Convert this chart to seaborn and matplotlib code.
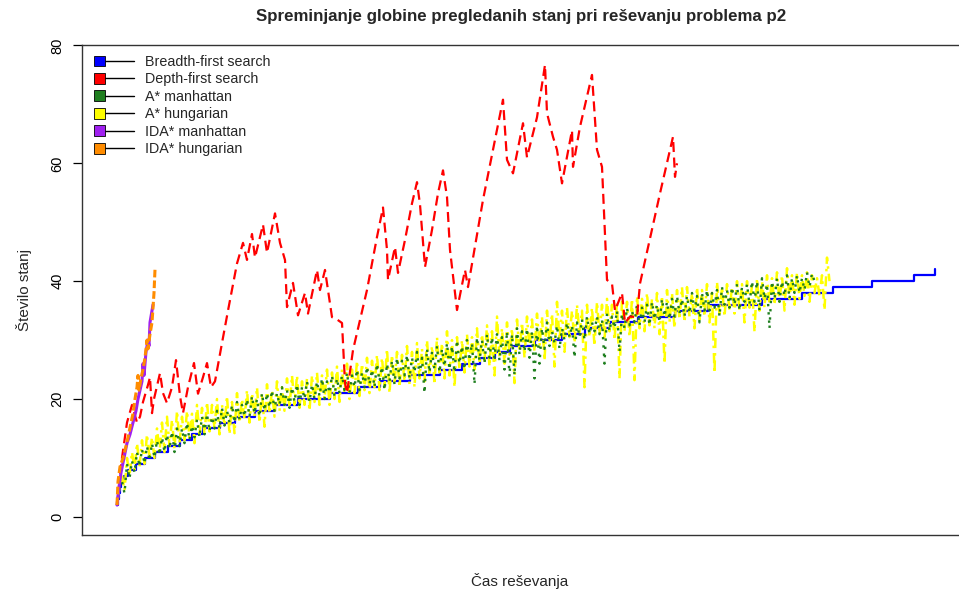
import numpy as np
import pandas as pd
import matplotlib
matplotlib.use("Agg")
import matplotlib.pyplot as plt
import seaborn as sns
from matplotlib.patches import Rectangle, Patch
from matplotlib.lines import Line2D
from matplotlib.legend_handler import HandlerBase

# ---------------- data (time steps, depth of inspected states) ----------------
labels = ["Breadth-first search", "Depth-first search", "A* manhattan",
          "A* hungarian", "IDA* manhattan", "IDA* hungarian"]
colors = ["#0000FF", "#FF0000", "#1F7F1F", "#FFFF00", "#A020F0", "#FF8C00"]

# Breadth-first search: depth level and the time step where it is reached
bfs_t = [0, 1, 2, 3, 4, 7, 11, 19, 28, 38, 51, 63, 75, 86, 103, 118, 138, 158, 181,
         213, 241, 263, 293, 323, 345, 363, 378, 393, 418, 445, 468, 493, 521, 558,
         591, 645, 685, 716, 755, 797, 818]
bfs_y = list(range(2, 43))

# Depth-first search
dfs_t = [0, 5, 10, 15, 20, 23, 26, 31, 33, 35, 37, 43, 46, 50, 55, 59, 63, 66, 71, 77,
         81, 86, 90, 94, 98, 105, 111, 120, 126, 130, 135, 138, 146, 150, 158, 163,
         168, 170, 176, 181, 188, 191, 200, 203, 208, 215, 220, 225, 228, 230, 236,
         250, 260, 266, 270, 271, 278, 281, 288, 295, 300, 303, 308, 315, 321, 326,
         330, 333, 340, 348, 351, 366, 386, 390, 396, 406, 410, 420, 428, 430, 436,
         440, 445, 455, 456, 463, 475, 480, 485, 490, 495, 498, 505, 508, 513, 520,
         523, 543, 556, 558, 560]
dfs_y = [2, 10, 16, 19, 16, 17, 19.5, 22.4, 23.7, 17.6, 20, 24.4, 21, 19.3, 22, 26.6,
         20.5, 17.6, 22, 26.1, 20.9, 23.7, 26.1, 22, 23, 29.5, 35, 43, 46.5, 43.6, 48,
         44, 49.6, 44.8, 51.5, 46.5, 43.6, 35.6, 39.7, 34.2, 38, 34.5, 41.9, 38.5,
         41.9, 33.9, 33.5, 32.9, 22.7, 21, 28.3, 38.5, 47.5, 52.5, 45.3, 40.2, 45.8,
         41.4, 47, 53.2, 56.8, 53, 42.4, 48.7, 54.9, 58.8, 54.3, 45.3, 35.1, 41.9, 39,
         53.8, 70.8, 60.6, 58.3, 66.8, 61, 67.8, 76.7, 68.5, 64.5, 62.3, 56.6, 65.6,
         59.4, 66.2, 75, 62.3, 59.4, 40.2, 39.6, 35, 38, 32.9, 34, 33.9, 39.6, 54.9,
         64.5, 57.7, 60]

# A* manhattan (one value every 2.5 time steps)
astar_man_y = [
    2, 5, 6, 4, 9, 6.5, 9.5, 7.5, 11, 8.5, 11.5, 9, 12, 9.5, 12.5, 10, 13, 10.5, 13.5, 11,
    14, 11.5, 14.5, 11, 15, 12, 15, 12.5, 16, 13, 15.5, 13.5, 16.5, 13.5, 17, 14, 17.5, 14.5, 17, 15,
    18, 15, 18.5, 15.5, 18, 16, 19, 16, 19.5, 16.5, 19, 17, 20, 17, 20.5, 17.5, 20, 17, 21, 18,
    21, 18.5, 21.5, 18, 21, 19, 22, 19, 21.5, 18.5, 22, 19.5, 22.5, 19, 22, 20, 23, 19.5, 22.5, 20,
    23, 20.5, 23.5, 20, 23, 21, 24, 20.5, 23.5, 21, 24, 21.5, 24.5, 21, 24, 22, 25, 21.5, 24.5, 22,
    25.5, 22.5, 25, 22, 26, 23, 25.5, 21.5, 26, 23, 26.5, 22.5, 27, 23.5, 26.5, 24, 27.5, 23.5, 27, 24.5,
    28, 24, 27, 21, 28.5, 24.5, 28, 25, 29, 24.5, 28.5, 25.5, 29.5, 25, 29, 24.5, 30, 26, 29, 25,
    30, 26.5, 29.5, 22.5, 30.5, 26.5, 30, 26, 31, 27, 30.5, 27, 31, 26.5, 30.5, 25, 31.5, 23.8, 31, 24,
    32, 27.5, 31.5, 28, 32, 27, 31.5, 23.5, 32.5, 26, 32, 28.5, 33, 29, 31.5, 29.5, 32.5, 28.5, 32, 30,
    33, 30.5, 32.5, 27, 33, 30.5, 33.5, 30, 34, 31, 33, 31.5, 34, 31, 33.5, 26, 34.5, 31.5, 34, 32,
    35, 28, 34.5, 32, 35.5, 32.5, 35, 33, 36, 32.5, 35.5, 33, 36, 32.5, 36.5, 33.5, 36, 33, 37, 34,
    36.5, 33.5, 37, 34, 37.5, 34.5, 37, 34, 37.5, 34.5, 38, 35, 37.5, 33, 38, 35, 38.5, 35, 38, 35.5,
    38.5, 34, 39, 36, 38.5, 35.5, 39, 36, 39.5, 35, 39, 36.5, 39.5, 36, 40, 36.5, 40, 35, 40.5, 37,
    39.5, 32, 40, 37, 40.5, 36.5, 40, 37.5, 41, 37, 40.5, 38, 41, 38, 40.5, 38.5, 41.5, 39, 41.3, 40]

# A* hungarian (one value every 2.5 time steps)
astar_hun_y = [
    2, 5, 7, 4.5, 10, 7, 11, 8, 12.5, 8.5, 13, 9, 14, 10, 13.5, 10, 15, 11, 16, 11,
    17, 12, 16.5, 11.5, 18, 12.5, 17, 13, 18, 13.5, 17.5, 12.5, 19, 14, 18.5, 14, 19.5, 14.5, 19, 15,
    20, 14, 19, 15.5, 20.5, 14, 19.5, 14.2, 21, 16, 20, 16.5, 21.5, 16, 21, 17, 22, 16, 21, 15.3,
    22.5, 17.5, 21.5, 17, 23, 18, 22, 18, 23.5, 18.5, 24, 19, 24, 18.5, 23, 19, 23.5, 18, 24, 19.5,
    24.5, 19, 24, 20, 25, 19, 24.5, 20, 25.5, 19.5, 25, 21, 26, 20, 25, 21, 26.5, 20.5, 26, 21.5,
    27, 21, 26.5, 22, 27.5, 21.5, 27, 22, 28.5, 21, 27.5, 22.5, 28, 22, 27.5, 23, 29, 22.5, 28, 22,
    29.5, 23.5, 28.5, 23, 30, 24, 29, 22.5, 30.5, 24.5, 29.5, 23.5, 31.5, 24, 30, 22, 30.5, 25, 30, 24.5,
    31, 25.5, 30.5, 25, 32, 26, 31, 26.5, 32.5, 25.5, 31.5, 24, 34, 27, 32, 26, 33, 27.5, 32, 22.7,
    33.5, 28, 33, 27, 34, 28.5, 33.5, 28, 34.5, 29, 34, 26.5, 35, 29.5, 34.5, 25.5, 36.5, 30, 35, 28,
    35.5, 30.5, 35, 29.5, 36, 31, 35, 22, 36, 30.5, 35.5, 29, 36.5, 31, 36, 30, 37, 31.5, 36, 30,
    36.5, 23.5, 37, 31.5, 36.5, 30.5, 37, 23.2, 37.5, 32, 37, 31.5, 38, 32.5, 37, 32, 38, 31, 37.5, 26,
    38.5, 33, 38, 32, 38.5, 33.5, 39, 33, 39, 34, 38, 32, 39, 33.5, 38.5, 34, 39.5, 33, 38, 24.4,
    39.9, 34.5, 39, 34, 39.5, 35, 39, 34.5, 40, 35, 39.5, 33, 40, 35.5, 39.3, 31.4, 40.5, 35, 40, 35.5,
    41, 36, 40.5, 36, 41.5, 36.5, 41, 35, 42.2, 37, 41, 36, 41.5, 37, 41, 37.5, 41.5, 36.5, 41, 38,
    40.5, 37.5, 41, 35.1, 44, 40]

# IDA* manhattan
ida_man_t = [0, 2, 4, 7, 10, 13, 16, 19, 21, 23, 25, 26, 27, 29, 31, 32, 33, 35, 36]
ida_man_y = [2, 5, 7.5, 10, 12.5, 14, 16, 18, 20, 21.5, 23, 26, 24, 28, 30, 29, 33,
             35, 36]

# IDA* hungarian
ida_hun_t = [0, 1, 3, 6, 9, 11, 14, 16, 18, 20, 21, 22, 24, 26, 28, 30, 31, 33, 35,
             36, 37, 38]
ida_hun_y = [2, 6, 8.5, 10, 12, 13.5, 16, 17.5, 20, 22, 24, 21.5, 23.5, 25, 27, 30,
             28.5, 31, 33, 35.5, 38, 42]

# ---------------- figure ----------------
sns.set_style("white")
plt.rcParams["font.family"] = ["Liberation Sans", "DejaVu Sans"]

W, H = 959, 593
fig = plt.figure(figsize=(W / 100, H / 100), dpi=100)
ax_left, ax_right, ax_top, ax_bottom = 82, 968, 45, 535
ax = fig.add_axes([ax_left / W, 1 - ax_bottom / H, (ax_right - ax_left) / W,
                   (ax_bottom - ax_top) / H])

lw = 1.6
step = 2.5
df_yel = pd.DataFrame({"t": np.arange(len(astar_hun_y)) * step, "y": astar_hun_y})
df_grn = pd.DataFrame({"t": np.arange(len(astar_man_y)) * step, "y": astar_man_y})
df_bfs = pd.DataFrame({"t": bfs_t, "y": bfs_y})
df_dfs = pd.DataFrame({"t": dfs_t, "y": dfs_y})
df_im = pd.DataFrame({"t": ida_man_t, "y": ida_man_y})
df_ih = pd.DataFrame({"t": ida_hun_t, "y": ida_hun_y})

sns.lineplot(data=df_bfs, x="t", y="y", ax=ax, color=colors[0], lw=lw,
             drawstyle="steps-post", estimator=None, sort=False, zorder=2)
sns.lineplot(data=df_yel, x="t", y="y", ax=ax, color=colors[3], lw=1.8,
             linestyle=(0, (1, 2, 4, 2)), estimator=None, sort=False, zorder=3)
sns.lineplot(data=df_grn, x="t", y="y", ax=ax, color=colors[2], lw=1.7,
             linestyle=(0, (1, 2.5)), estimator=None, sort=False, zorder=4)
sns.lineplot(data=df_dfs, x="t", y="y", ax=ax, color=colors[1], lw=lw,
             linestyle=(0, (4.5, 2.5)), estimator=None, sort=False, zorder=5)
sns.lineplot(data=df_im, x="t", y="y", ax=ax, color=colors[4], lw=lw + 0.6,
             estimator=None, sort=False, zorder=6)
sns.lineplot(data=df_ih, x="t", y="y", ax=ax, color=colors[5], lw=lw + 0.6,
             linestyle=(0, (2.5, 1)), estimator=None, sort=False, zorder=7)

ax.set_xlim(ax_left - 117, ax_right - 117)
ax.set_ylim(-3.08, 80.08)
ax.set_xticks([])
ax.set_yticks([0, 20, 40, 60, 80])
ax.tick_params(axis="y", direction="out", length=6.5, width=0.9, pad=6,
               labelsize=10.5, left=True, colors="black")
for lab in ax.get_yticklabels():
    lab.set_rotation(90)
    lab.set_va("center")
for s in ax.spines.values():
    s.set_visible(True)
    s.set_color("#333333")
    s.set_linewidth(1.0)

ax.set_xlabel("Čas reševanja", fontsize=11)
ax.set_ylabel("Število stanj", fontsize=11)
ax.xaxis.set_label_coords((520 - ax_left) / (ax_right - ax_left),
                          (ax_bottom - 573) / (ax_bottom - ax_top))
ax.yaxis.set_label_coords((24 - ax_left) / (ax_right - ax_left), 0.5)
ax.yaxis.label.set_va("center")

fig.text(521 / W, 1 - 17 / H, "Spreminjanje globine pregledanih stanj pri reševanju problema p2",
         ha="center", va="center", fontsize=12.2, fontweight="bold")


class BoxLineHandler(HandlerBase):
    def create_artists(self, legend, orig_handle, xdescent, ydescent, width,
                       height, fontsize, trans):
        s = 7.8
        x0 = -xdescent
        yc = -ydescent + height / 2
        line = Line2D([x0 + s, x0 + width], [yc, yc], color="black", lw=1.0,
                      transform=trans)
        rect = Rectangle((x0, yc - s / 2), s, s, facecolor=orig_handle.get_facecolor(),
                         edgecolor="black", lw=0.6, transform=trans)
        return [line, rect]


handles = [Patch(facecolor=c) for c in colors]
leg = ax.legend(handles, labels, handler_map={Patch: BoxLineHandler()},
                loc="upper left", bbox_to_anchor=(94 / W, 1 - 55 / H),
                bbox_transform=fig.transFigure, frameon=False, fontsize=10.3,
                handlelength=2.8, handletextpad=0.75, labelspacing=0.24,
                borderpad=0, borderaxespad=0)

fig.savefig("out.png", dpi=100, facecolor="white")
